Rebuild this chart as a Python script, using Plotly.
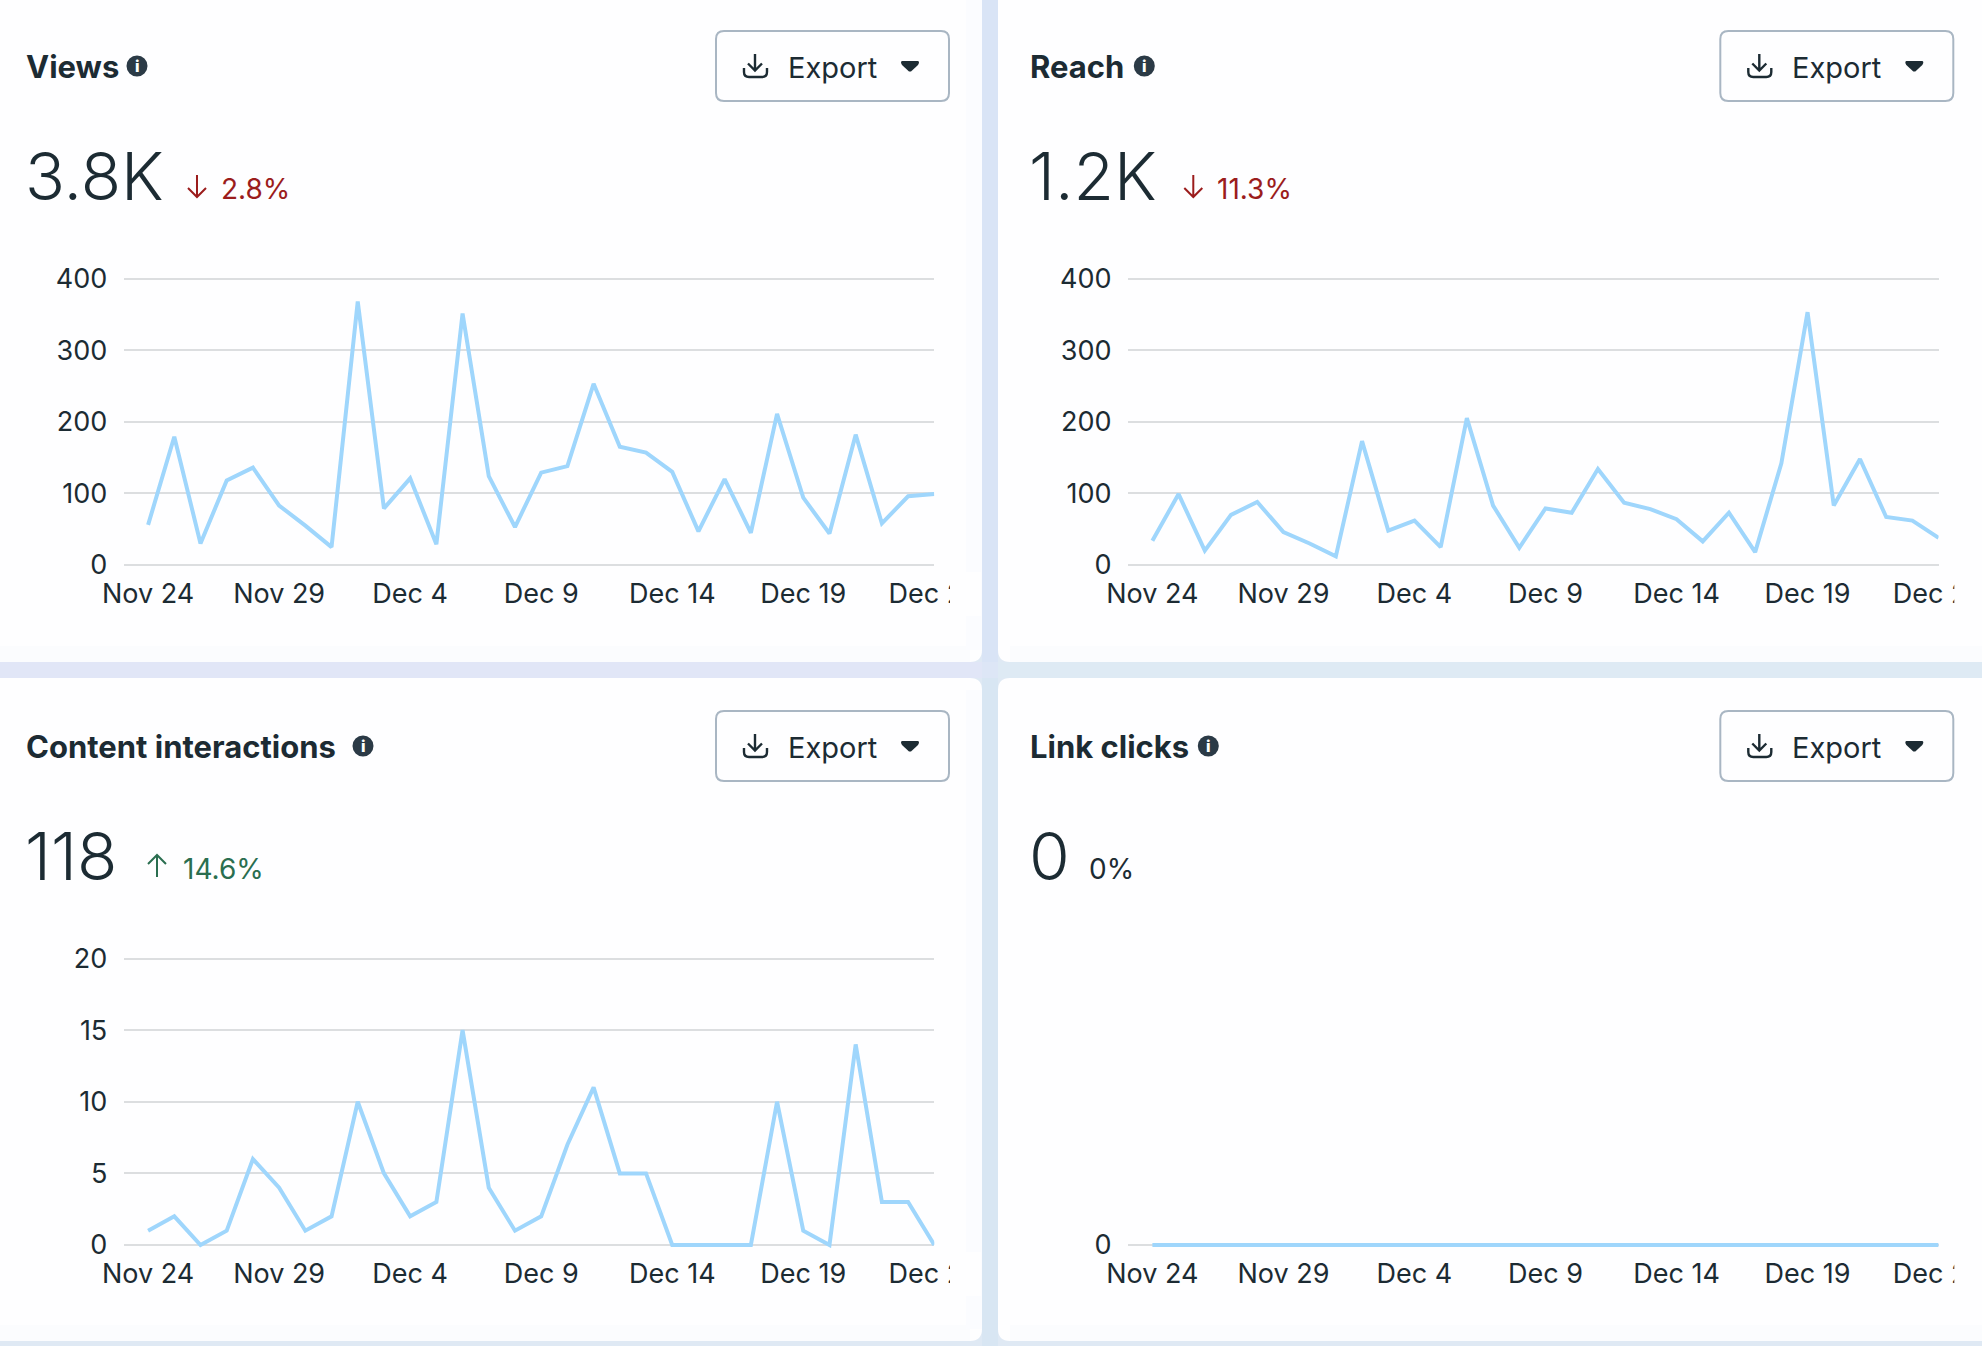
import pandas as pd
import plotly.graph_objects as go

# page runs a little past the window so the last date label is not dropped by plotly
W = 2030
H = 1346
WINDOW_W = 1982

dates = pd.date_range("2024-11-24", "2024-12-24", freq="D")
tick_dates = pd.date_range("2024-11-24", "2024-12-24", freq="5D")

views = [56, 179, 30, 118, 136, 83, 55, 25, 368, 79, 121, 29, 351, 124, 53, 129,
         138, 253, 165, 157, 130, 47, 120, 45, 211, 94, 44, 182, 58, 96, 99]
reach = [34, 99, 20, 70, 88, 46, 30, 12, 173, 48, 62, 25, 205, 83, 24, 79,
         73, 134, 87, 78, 64, 33, 73, 18, 142, 353, 83, 148, 67, 62, 38]
interactions = [1, 2, 0, 1, 6, 4, 1, 2, 10, 5, 2, 3, 15, 4, 1, 2,
                7, 11, 5, 5, 0, 0, 0, 0, 10, 1, 0, 14, 3, 3, 0]
link_clicks = [0] * 31

titles = ["Views", "Reach", "Content interactions", "Link clicks"]
totals = ["3.8K", "1.2K", "118", "0"]
deltas = ["2.8%", "11.3%", "14.6%", "0%"]
directions = ["down", "down", "up", None]
series = [views, reach, interactions, link_clicks]
y_ticks = [[0, 100, 200, 300, 400], [0, 100, 200, 300, 400], [0, 5, 10, 15, 20], [0]]
y_tops = [400, 400, 20, 1]

# per panel x of the bits that depend on text width (panel relative)
info_x = [137, 140, 363, 204]
arrow_x = [197, 189, 157, None]
delta_x = [219, 211, 181, 83]

INK = "#1C2B33"
RED = "#9B1C1C"
GREEN = "#2A6E50"
LINE = "#9FD6FC"
GRID = "#DCDEE0"
CARD = "#FEFEFF"
FONT = "Inter"

PLOT_TOP = 278.5
PLOT_BOTTOM = 565
PAD = 3  # px of spare room so plotly keeps the end gridlines and does not clip the line at 0


def fx(x):
    return x / W


def fy(y):
    return 1 - y / H


def pt(x, y):
    return f"{fx(x):.5f},{fy(y):.5f}"


def round_rect(x0, y0, x1, y1, r):
    return (f"M{pt(x0 + r, y0)} L{pt(x1 - r, y0)} Q{pt(x1, y0)} {pt(x1, y0 + r)} "
            f"L{pt(x1, y1 - r)} Q{pt(x1, y1)} {pt(x1 - r, y1)} "
            f"L{pt(x0 + r, y1)} Q{pt(x0, y1)} {pt(x0, y1 - r)} "
            f"L{pt(x0, y0 + r)} Q{pt(x0, y0)} {pt(x0 + r, y0)} Z")


def path_shape(path, **kw):
    return dict(type="path", path=path, xref="paper", yref="paper", **kw)


def rect(x0, y0, x1, y1, color, layer="below"):
    return dict(type="rect", xref="paper", yref="paper", x0=fx(x0), x1=fx(x1), y0=fy(y1), y1=fy(y0),
                fillcolor=color, line_width=0, layer=layer)


def text(x, y, s, size, color=INK, weight=400, anchor="left"):
    return dict(text=s, x=fx(x), y=fy(y), xref="paper", yref="paper", xanchor=anchor, yanchor="middle",
                showarrow=False, font=dict(family=FONT, size=size, color=color, weight=weight))


fig = go.Figure()
shapes = []
notes = []

# page gutters, faint colour drift across the page
shapes.append(rect(0, 0, W, H, "#DFE9F4"))
shapes.append(rect(0, 662, 982, 678, "#E1E6F7"))
shapes.append(rect(982, 0, 998, 662, "#D9E4F6"))
shapes.append(rect(982, 662, 998, 678, "#DDE6F6"))
shapes.append(rect(982, 678, 998, H, "#D8E6F3"))
shapes.append(rect(998, 662, W, 678, "#DEEAF4"))

cards = [(-30, -30, 982, 662), (998, -30, W + 30, 662), (-30, 678, 982, 1341), (998, 678, W + 30, 1341)]
offsets = [(0, 0), (1004.3, 0), (0, 680), (1004.3, 680)]

for i, (dx, dy) in enumerate(offsets):
    n = i + 1
    x0, y0, x1, y1 = cards[i]
    shapes.append(path_shape(round_rect(x0, y0, x1, y1, 12), fillcolor=CARD, line_width=0, layer="below"))
    # slight tint near the card edges
    shapes.append(rect(max(x0, 0) + 12 * (x0 > 0), y1 - 16, min(x1, WINDOW_W) - 12 * (x1 < W), y1, "#FBFCFE"))
    if i in (0, 2):
        shapes.append(rect(x1 - 16, max(y0, 0) + 12 * (y0 > 0), x1, y1 - 12, "#FBFCFF"))

    xname = "x" if n == 1 else f"x{n}"
    yname = "y" if n == 1 else f"y{n}"
    fig.add_trace(go.Scatter(x=dates, y=series[i], mode="lines", xaxis=xname, yaxis=yname,
                             line=dict(color=LINE, width=4), showlegend=False, hoverinfo="x+y"))
    y_pad = PAD * y_tops[i] / (PLOT_BOTTOM - PLOT_TOP)
    fig.update_layout({
        ("xaxis" if n == 1 else f"xaxis{n}"): dict(
            domain=[fx(123.7 + dx), fx(934.3 + dx)], anchor=yname, automargin=False,
            range=["2024-11-23 01:40", "2024-12-24"], tickvals=list(tick_dates), tickformat="%b %-d",
            showgrid=False, zeroline=False, showline=False, ticks="outside", ticklen=1.5,
            tickcolor="rgba(0,0,0,0)", tickangle=0, tickfont=dict(family=FONT, size=27, color=INK)),
        ("yaxis" if n == 1 else f"yaxis{n}"): dict(
            domain=[fy(PLOT_BOTTOM + PAD + dy), fy(PLOT_TOP - PAD + dy)], anchor=xname, automargin=False,
            range=[-y_pad, y_tops[i] + y_pad], tickvals=y_ticks[i], showgrid=True, gridcolor=GRID, gridwidth=2,
            zeroline=False, showline=False, ticks="outside", ticklen=10, tickcolor="rgba(0,0,0,0)",
            tickfont=dict(family=FONT, size=27, color=INK)),
    })

    # cut the last date label at the card padding
    shapes.append(rect(950 + dx, 572 + dy, 981 + dx if dx == 0 else W, 616 + dy, CARD, "above"))

    # header
    notes.append(text(23.5 + dx, 66.5 + dy, titles[i], 31, weight=700))
    shapes.append(dict(type="circle", xref="paper", yref="paper", x0=fx(info_x[i] - 10.5 + dx),
                       x1=fx(info_x[i] + 10.5 + dx), y0=fy(66 + 10.5 + dy), y1=fy(66 - 10.5 + dy),
                       fillcolor="#2B3A46", line_width=0, layer="above"))
    notes.append(text(info_x[i] + dx, 66 + dy, "i", 16, color="#FFFFFF", weight=800, anchor="center"))

    # export button
    shapes.append(path_shape(round_rect(716 + dx, 31 + dy, 949 + dx, 101 + dy, 8),
                             line=dict(color="#A9B6C3", width=2), fillcolor="rgba(0,0,0,0)", layer="above"))
    notes.append(text(785.5 + dx, 67.5 + dy, "Export", 29))
    shapes.append(path_shape(f"M{pt(755 + dx, 54 + dy)} L{pt(755 + dx, 70 + dy)} "
                             f"M{pt(748 + dx, 63.5 + dy)} L{pt(755 + dx, 70.5 + dy)} L{pt(762 + dx, 63.5 + dy)} "
                             f"M{pt(744 + dx, 68 + dy)} L{pt(744 + dx, 72 + dy)} "
                             f"Q{pt(744 + dx, 77 + dy)} {pt(749 + dx, 77 + dy)} L{pt(762 + dx, 77 + dy)} "
                             f"Q{pt(767 + dx, 77 + dy)} {pt(767 + dx, 72 + dy)} L{pt(767 + dx, 68 + dy)}",
                             line=dict(color=INK, width=2.4), layer="above"))
    shapes.append(path_shape(f"M{pt(902 + dx, 61 + dy)} L{pt(918 + dx, 61 + dy)} "
                             f"Q{pt(920 + dx, 62 + dy)} {pt(918 + dx, 65 + dy)} L{pt(911 + dx, 71.5 + dy)} "
                             f"L{pt(909 + dx, 71.5 + dy)} L{pt(902 + dx, 65 + dy)} "
                             f"Q{pt(900 + dx, 62 + dy)} {pt(902 + dx, 61 + dy)} Z",
                             fillcolor=INK, line_width=0, layer="above"))

    # total and change
    notes.append(text(22.5 + dx, 176 + dy, totals[i], 66, weight=300))
    color = {"down": RED, "up": GREEN, None: INK}[directions[i]]
    notes.append(text(delta_x[i] + dx, 189 + dy, deltas[i], 28, color=color))
    if directions[i] == "down":
        ax = arrow_x[i] + dx
        shapes.append(path_shape(f"M{pt(ax, 175 + dy)} L{pt(ax, 197 + dy)} M{pt(ax - 9, 188 + dy)} "
                                 f"L{pt(ax, 197 + dy)} L{pt(ax + 9, 188 + dy)}",
                                 line=dict(color=color, width=2), layer="above"))
    elif directions[i] == "up":
        ax = arrow_x[i] + dx
        shapes.append(path_shape(f"M{pt(ax, 197 + dy)} L{pt(ax, 175 + dy)} M{pt(ax - 9, 184 + dy)} "
                                 f"L{pt(ax, 175 + dy)} L{pt(ax + 9, 184 + dy)}",
                                 line=dict(color=color, width=2), layer="above"))

fig.update_layout(
    width=W,
    height=H,
    margin=dict(l=0, r=0, t=0, b=0, autoexpand=False),
    paper_bgcolor="#DFE9F4",
    plot_bgcolor="rgba(0,0,0,0)",
    shapes=shapes,
    annotations=notes,
    showlegend=False,
)

fig.write_html("out.html", config={"displayModeBar": False},
               post_script="document.body.style.margin='0';document.body.style.overflow='hidden';")
